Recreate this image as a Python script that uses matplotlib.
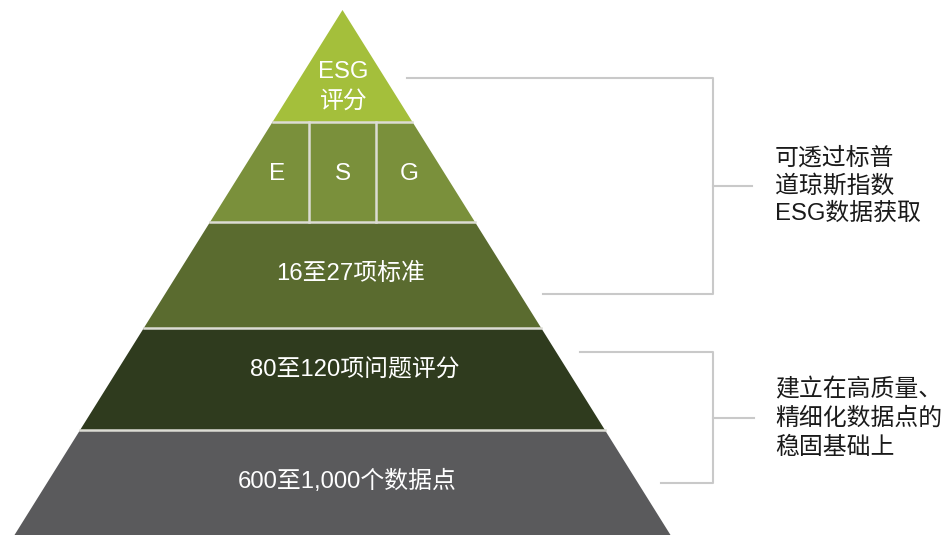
import matplotlib
matplotlib.use("Agg")
import matplotlib.pyplot as plt

# ---- data ----
layer_labels = ["ESG\n评分", "", "16至27项标准", "80至120项问题评分", "600至1,000个数据点"]
layer_colors = ["#a4bf3b", "#7a903b", "#5a6b2f", "#2f3b1e", "#5a5a5c"]
pillar_labels = ["E", "S", "G"]
note_top = ["可透过标普", "道琼斯指数", "ESG数据获取"]
note_bottom = ["建立在高质量、", "精细化数据点的", "稳固基础上"]

# ---- geometry (pixel units) ----
W, H = 945, 535
apex_x, apex_y = 342.5, 10
base_y, base_half = 535, 328
bounds = [10, 122, 222, 328, 430, 535]
label_y = [87, None, 274, 370, 481]
label_dx = [1, 0, 8.5, 12.5, 4.5]
label_ls = [1.45, 1.2, 1.2, 1.2, 1.2]

def half(y):
    return base_half * (y - apex_y) / (base_y - apex_y)

fam = ["Liberation Sans", "Noto Sans CJK SC"]
fig = plt.figure(figsize=(W / 100, H / 100), dpi=100)
ax = fig.add_axes([0, 0, 1, 1])
ax.set_xlim(0, W)
ax.set_ylim(H, 0)
ax.axis("off")

for i, (lab, col) in enumerate(zip(layer_labels, layer_colors)):
    y0, y1 = bounds[i], bounds[i + 1]
    xs = [apex_x - half(y0), apex_x + half(y0), apex_x + half(y1), apex_x - half(y1)]
    ys = [y0, y0, y1, y1]
    ax.fill(xs, ys, color=col, lw=0, zorder=1)
    if lab:
        ax.text(apex_x + label_dx[i], label_y[i], lab, color="white", ha="center", va="center",
                fontsize=17.2, family=fam, linespacing=label_ls[i], zorder=3)

# separators
for y in bounds[1:-1]:
    ax.plot([apex_x - half(y), apex_x + half(y)], [y, y], color="#dcdcd4", lw=1.8, zorder=2)
cell = 67
for dx in (-cell / 2, cell / 2):
    ax.plot([apex_x + dx, apex_x + dx], [bounds[1], bounds[2]], color="#dcdcd4", lw=1.8, zorder=2)
for lab, dx in zip(pillar_labels, (-65, 0, 67)):
    ax.text(apex_x + dx, 174, lab, color="white", ha="center", va="center",
            fontsize=17.5, family=fam, zorder=3)

# brackets
lc = "#c9c9c9"
bx = 713
def bracket(x_top, y_top, x_bot, y_bot, y_mid, x_tick):
    ax.plot([x_top, bx, bx, x_bot], [y_top, y_top, y_bot, y_bot], color=lc, lw=1.5, zorder=1)
    ax.plot([bx, x_tick], [y_mid, y_mid], color=lc, lw=1.5, zorder=1)

bracket(407, 78, 543, 294, 186, 752)
bracket(580, 352, 661, 483, 418, 754)

for k, line in enumerate(note_top):
    ax.text(775, 158 + 28 * k, line, ha="left", va="center", fontsize=17.2,
            family=fam, color="#1a1a1a")
for k, line in enumerate(note_bottom):
    ax.text(775, 390 + 29 * k, line, ha="left", va="center", fontsize=17.2,
            family=fam, color="#1a1a1a")

fig.savefig("out.png", dpi=100, facecolor="white")
